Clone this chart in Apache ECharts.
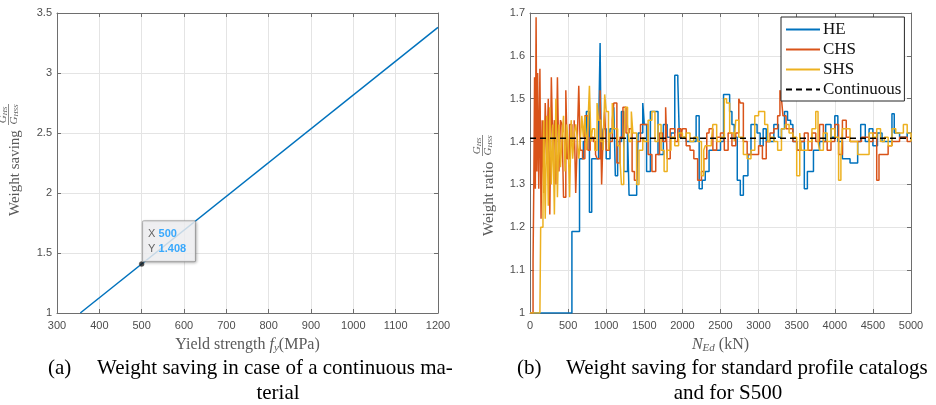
<!DOCTYPE html>
<html>
<head>
<meta charset="utf-8">
<script src="https://cdn.jsdelivr.net/npm/echarts@6/dist/echarts.min.js"></script>
<style>
html,body{margin:0;padding:0;background:#fff;}
#c{width:936px;height:405px;}
</style>
</head>
<body>
<div id="c"></div>
<script>
// ---- Panel (a): continuous material ----
const yieldX = [355, 1200];
const savingY = [1.0, 3.380];
const tipX = 500;
const tipY = 1.408;

// ---- Panel (b): standard profile catalogs, [N_Ed (kN), ratio] steps ----
const heData = [
  [0,1.0],[550,1.19],[650,1.36],[700,1.40],[740,1.47],[780,1.235],[810,1.36],[870,1.36],[900,1.42],[920,1.63],
  [935,1.36],[960,1.43],[1000,1.36],[1050,1.43],[1100,1.48],[1120,1.32],[1150,1.40],[1200,1.47],[1230,1.33],[1280,1.42],
  [1300,1.275],[1400,1.30],[1420,1.42],[1480,1.49],[1500,1.44],[1530,1.33],[1580,1.47],[1680,1.37],[1750,1.44],[1800,1.41],
  [1850,1.42],[1900,1.555],[1940,1.54],[1960,1.41],[2000,1.41],[2050,1.40],[2150,1.40],[2180,1.46],[2220,1.29],[2260,1.31],
  [2300,1.33],[2350,1.38],[2450,1.38],[2500,1.40],[2540,1.51],[2620,1.47],[2650,1.44],[2680,1.41],[2720,1.31],[2760,1.275],
  [2800,1.32],[2860,1.37],[2900,1.44],[2980,1.42],[3020,1.39],[3060,1.43],[3100,1.40],[3200,1.44],[3260,1.41],[3300,1.43],
  [3340,1.47],[3380,1.45],[3420,1.44],[3450,1.40],[3500,1.38],[3540,1.40],[3600,1.29],[3640,1.33],[3720,1.38],[3800,1.40],
  [3880,1.44],[3950,1.41],[4000,1.46],[4040,1.40],[4100,1.36],[4200,1.35],[4300,1.40],[4340,1.44],[4400,1.40],[4450,1.43],
  [4500,1.39],[4560,1.42],[4620,1.40],[4700,1.40],[4750,1.465],[4780,1.42],[4850,1.41],[4950,1.42],[5000,1.42]
];
const chsData = [
  [0,1.0],[40,1.12],[50,1.30],[60,1.55],[70,1.29],[80,1.69],[90,1.33],[100,1.56],[115,1.29],[130,1.57],
  [145,1.22],[160,1.45],[180,1.28],[200,1.49],[220,1.35],[240,1.50],[260,1.23],[280,1.55],[300,1.38],[320,1.45],
  [340,1.30],[360,1.55],[380,1.33],[400,1.45],[420,1.44],[440,1.27],[470,1.52],[490,1.36],[520,1.44],[550,1.40],
  [580,1.45],[600,1.28],[620,1.40],[640,1.53],[660,1.38],[690,1.36],[720,1.46],[760,1.38],[790,1.41],[830,1.40],
  [860,1.37],[880,1.36],[920,1.52],[940,1.30],[960,1.42],[980,1.47],[1000,1.38],[1040,1.40],[1080,1.45],[1100,1.49],
  [1140,1.35],[1180,1.41],[1220,1.48],[1260,1.42],[1300,1.43],[1340,1.33],[1370,1.31],[1400,1.40],[1450,1.44],[1500,1.44],
  [1550,1.37],[1600,1.33],[1650,1.37],[1700,1.42],[1740,1.40],[1780,1.48],[1800,1.36],[1840,1.43],[1900,1.40],[1940,1.43],
  [1980,1.41],[2000,1.43],[2050,1.39],[2100,1.38],[2150,1.36],[2200,1.31],[2250,1.33],[2280,1.36],[2320,1.42],[2350,1.43],
  [2400,1.38],[2450,1.41],[2500,1.42],[2550,1.38],[2600,1.42],[2650,1.39],[2700,1.42],[2740,1.50],[2760,1.49],[2800,1.40],
  [2850,1.37],[2900,1.37],[3000,1.39],[3050,1.36],[3100,1.40],[3150,1.42],[3200,1.43],[3250,1.46],[3280,1.52],[3300,1.50],
  [3320,1.46],[3360,1.43],[3400,1.43],[3450,1.40],[3500,1.38],[3550,1.40],[3600,1.42],[3650,1.38],[3700,1.42],[3750,1.40],
  [3800,1.44],[3850,1.40],[3900,1.38],[3950,1.40],[4000,1.44],[4050,1.37],[4100,1.45],[4150,1.41],[4200,1.40],[4300,1.40],
  [4350,1.41],[4400,1.41],[4450,1.40],[4500,1.42],[4550,1.31],[4580,1.37],[4650,1.37],[4700,1.39],[4750,1.40],[4850,1.41],
  [4950,1.40],[5000,1.40]
];
const shsData = [
  [0,1.0],[130,1.0],[140,1.20],[170,1.23],[180,1.45],[200,1.22],[220,1.46],[240,1.25],[260,1.48],[280,1.30],
  [300,1.44],[320,1.23],[340,1.50],[360,1.27],[380,1.44],[400,1.34],[420,1.41],[440,1.46],[460,1.33],[480,1.44],
  [500,1.40],[520,1.27],[540,1.45],[560,1.36],[580,1.42],[600,1.44],[620,1.41],[640,1.36],[660,1.40],[680,1.46],
  [700,1.41],[720,1.46],[740,1.38],[760,1.44],[780,1.53],[800,1.40],[820,1.43],[850,1.38],[880,1.49],[900,1.45],
  [930,1.40],[960,1.38],[980,1.51],[1000,1.47],[1030,1.38],[1050,1.42],[1080,1.49],[1100,1.43],[1150,1.39],[1180,1.36],
  [1200,1.30],[1230,1.38],[1250,1.48],[1280,1.44],[1300,1.40],[1330,1.47],[1350,1.42],[1400,1.30],[1430,1.38],[1480,1.41],
  [1500,1.40],[1550,1.45],[1600,1.47],[1640,1.40],[1680,1.44],[1720,1.38],[1760,1.33],[1800,1.38],[1850,1.41],[1900,1.39],
  [1950,1.42],[2000,1.41],[2050,1.42],[2100,1.40],[2150,1.41],[2200,1.40],[2250,1.32],[2280,1.38],[2300,1.39],[2380,1.40],
  [2400,1.44],[2450,1.40],[2500,1.41],[2550,1.50],[2580,1.49],[2620,1.42],[2680,1.40],[2700,1.45],[2740,1.41],[2800,1.37],
  [2850,1.36],[2900,1.38],[2950,1.46],[3000,1.47],[3080,1.44],[3120,1.40],[3150,1.41],[3200,1.40],[3250,1.38],[3300,1.43],
  [3350,1.44],[3400,1.42],[3450,1.41],[3500,1.32],[3540,1.42],[3560,1.38],[3600,1.38],[3650,1.40],[3700,1.43],[3750,1.47],
  [3780,1.40],[3800,1.38],[3850,1.42],[3900,1.40],[3950,1.43],[4000,1.41],[4050,1.31],[4080,1.36],[4100,1.43],[4150,1.43],
  [4200,1.40],[4300,1.37],[4400,1.37],[4450,1.42],[4500,1.41],[4550,1.43],[4600,1.40],[4650,1.41],[4700,1.39],[4750,1.43],
  [4800,1.42],[4850,1.42],[4900,1.44],[4950,1.42],[5000,1.40]
];
const contX = [0, 5000];
const contY = [1.408, 1.408];

const seriesNames = ['HE', 'CHS', 'SHS', 'Continuous'];
const captionA = ['(a)', 'Weight saving in case of a continuous ma-', 'terial'];
const captionB = ['(b)', 'Weight saving for standard profile catalogs', 'and for S500'];

// ---- styles ----
const AX = '#6e6e6e';
const TICKC = '#4d4d4d';
const LABC = '#5a5a5a';
const SERIF = '"Liberation Serif", "Times New Roman", serif';
const SANS = '"Liberation Sans", Arial, sans-serif';
const C_BLUE = '#0072BD', C_RED = '#D95319', C_YEL = '#EDB120';
const numFmt = function (v) { return String(Math.round(v * 100) / 100); };

function mainX(grid, min, max, interval, name) {
  return {
    type: 'value', gridIndex: grid, min, max, interval, position: 'bottom',
    axisLine: { show: true, onZero: false, lineStyle: { color: AX, width: 1 } },
    axisTick: { show: true, inside: true, length: 4, lineStyle: { color: AX } },
    axisLabel: { color: TICKC, fontFamily: SANS, fontSize: 11, margin: 7, formatter: numFmt },
    splitLine: { show: true, lineStyle: { color: '#e4e4e4', width: 1 } },
    name: name, nameLocation: 'middle', nameGap: 22,
    nameTextStyle: { color: LABC, fontFamily: SERIF, fontSize: 16, rich: {
      n: { fontFamily: SERIF, fontSize: 16, color: LABC },
      i: { fontFamily: SERIF, fontStyle: 'italic', fontSize: 16, color: LABC },
      s: { fontFamily: SERIF, fontStyle: 'italic', fontSize: 11, color: LABC, verticalAlign: 'bottom', padding: [8,0,0,0] }
    } }
  };
}
function mainY(grid, min, max, interval) {
  return {
    type: 'value', gridIndex: grid, min, max, interval, position: 'left',
    axisLine: { show: true, onZero: false, lineStyle: { color: AX, width: 1 } },
    axisTick: { show: true, inside: true, length: 4, lineStyle: { color: AX } },
    axisLabel: { color: TICKC, fontFamily: SANS, fontSize: 11, margin: 5, formatter: numFmt },
    splitLine: { show: true, lineStyle: { color: '#e4e4e4', width: 1 } }
  };
}
function boxX(grid, min, max, interval) {
  return { type: 'value', gridIndex: grid, min, max, interval, position: 'top',
    axisLine: { show: true, onZero: false, lineStyle: { color: AX, width: 1 } },
    axisTick: { show: true, inside: true, length: 4, lineStyle: { color: AX } },
    axisLabel: { show: false }, splitLine: { show: false } };
}
function boxY(grid, min, max, interval) {
  return { type: 'value', gridIndex: grid, min, max, interval, position: 'right',
    axisLine: { show: true, onZero: false, lineStyle: { color: AX, width: 1 } },
    axisTick: { show: true, inside: true, length: 4, lineStyle: { color: AX } },
    axisLabel: { show: false }, splitLine: { show: false } };
}

function yLabel(x, yBottom, words, fracGap) {
  const rich = { g: { fontFamily: SERIF, fontStyle: 'italic', fontSize: 11, fill: LABC, color: LABC },
                 s: { fontFamily: SERIF, fontStyle: 'italic', fontSize: 7, fill: LABC, color: LABC, padding: [4,0,0,0] } };
  return {
    type: 'group', x: x, y: yBottom, rotation: Math.PI / 2, silent: true,
    children: [
      { type: 'text', style: { text: words, x: 0, y: 0, font: '15px ' + SERIF, fill: LABC, verticalAlign: 'middle', align: 'left' } },
      { type: 'text', style: { text: '{g|G}{s|HS}', x: fracGap + 10, y: -11.5, align: 'center', verticalAlign: 'middle', rich: rich } },
      { type: 'line', shape: { x1: fracGap, y1: -6.5, x2: fracGap + 21, y2: -6.5 }, style: { stroke: LABC, lineWidth: 0.7 } },
      { type: 'text', style: { text: '{g|G}{s|HSS}', x: fracGap + 10.5, y: -1, align: 'center', verticalAlign: 'middle', rich: rich } }
    ]
  };
}

function caption(x0, xText, xCenter2, lines) {
  const f = '21px ' + SERIF;
  return [
    { type: 'text', x: x0, y: 368, style: { text: lines[0], font: f, fill: '#000', verticalAlign: 'middle', align: 'left' }, silent: true },
    { type: 'text', x: xText, y: 368, style: { text: lines[1], font: f, fill: '#000', verticalAlign: 'middle', align: 'left' }, silent: true },
    { type: 'text', x: xCenter2, y: 393, style: { text: lines[2], font: f, fill: '#000', verticalAlign: 'middle', align: 'center' }, silent: true }
  ];
}

const chart = echarts.init(document.getElementById('c'), null, { renderer: 'canvas' });
const option = {
  animation: false,
  backgroundColor: '#fff',
  grid: [
    { left: 57, top: 13, width: 381, height: 300 },
    { left: 530, top: 13, width: 381, height: 300 }
  ],
  xAxis: [
    mainX(0, 300, 1200, 100, '{n|Yield strength }{i|f}{s|y}{n|(MPa)}'),
    boxX(0, 300, 1200, 100),
    mainX(1, 0, 5000, 500, '{i|N}{s|Ed}{n| (kN)}'),
    boxX(1, 0, 5000, 500)
  ],
  yAxis: [
    mainY(0, 1, 3.5, 0.5),
    boxY(0, 1, 3.5, 0.5),
    mainY(1, 1, 1.7, 0.1),
    boxY(1, 1, 1.7, 0.1)
  ],
  legend: {
    data: seriesNames, orient: 'vertical', left: 781, top: 17,
    itemWidth: 34, itemHeight: 14, itemGap: 3, padding: [4, 3, 3, 4],
    backgroundColor: '#fff', borderColor: '#262626', borderWidth: 1, borderRadius: 0,
    itemStyle: { opacity: 0 },
    textStyle: { fontFamily: SERIF, fontSize: 17, color: '#111', lineHeight: 14, padding: [0, 0, 0, -2] },
    selectedMode: false
  },
  series: [
    { type: 'line', name: 'yield', xAxisIndex: 0, yAxisIndex: 0, showSymbol: false, symbol: 'none',
      data: yieldX.map((x, i) => [x, savingY[i]]), lineStyle: { color: C_BLUE, width: 1.5 }, itemStyle: { color: C_BLUE } },
    { type: 'scatter', name: 'tip', xAxisIndex: 0, yAxisIndex: 0, symbolSize: 5, z: 5,
      data: [[tipX, tipY]], itemStyle: { color: '#1a1a1a', borderColor: '#555', borderWidth: 0.5 },
      label: { show: true, position: [4, -40], formatter: function(p){ return '{k|X} {v|' + p.value[0] + '}\n{k|Y} {v|' + p.value[1].toFixed(3) + '}'; },
        backgroundColor: '#f8f8fa', borderColor: '#a0a0a0', borderWidth: 1, borderRadius: 1,
        padding: [5, 9, 5, 5], lineHeight: 15,
        shadowColor: 'rgba(0,0,0,0.25)', shadowBlur: 3, shadowOffsetX: 1, shadowOffsetY: 1,
        rich: { k: { fontFamily: SANS, fontSize: 11, color: '#404040', lineHeight: 15 },
                v: { fontFamily: SANS, fontSize: 11, fontWeight: 'bold', color: '#0a96ff', lineHeight: 15 } } } },
    { type: 'line', name: 'HE', xAxisIndex: 2, yAxisIndex: 2, step: 'end', symbol: 'none', data: heData,
      lineStyle: { color: C_BLUE, width: 1.5 }, itemStyle: { color: C_BLUE } },
    { type: 'line', name: 'CHS', xAxisIndex: 2, yAxisIndex: 2, step: 'end', symbol: 'none', data: chsData,
      lineStyle: { color: C_RED, width: 1.5 }, itemStyle: { color: C_RED } },
    { type: 'line', name: 'SHS', xAxisIndex: 2, yAxisIndex: 2, step: 'end', symbol: 'none', data: shsData,
      lineStyle: { color: C_YEL, width: 1.5 }, itemStyle: { color: C_YEL } },
    { type: 'line', name: 'Continuous', xAxisIndex: 2, yAxisIndex: 2, symbol: 'none', z: 4,
      data: contX.map((x, i) => [x, contY[i]]), lineStyle: { color: '#000', width: 1.5, type: [6, 4] }, itemStyle: { color: '#000' } }
  ],
  graphic: [
    yLabel(15, 216, 'Weight saving', 91),
    yLabel(489, 236, 'Weight ratio', 80)
  ].concat(caption(48, 97, 278, captionA)).concat(caption(517, 566, 728, captionB))
};
chart.setOption(option);
</script>
</body>
</html>
